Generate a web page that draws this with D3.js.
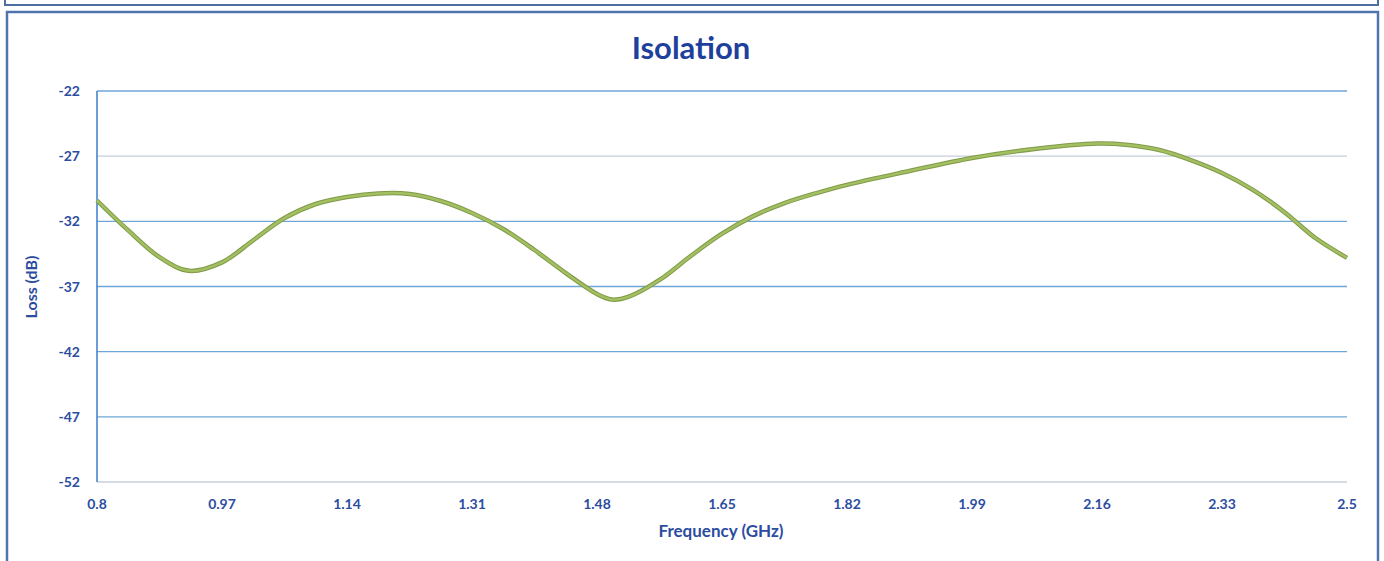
<!DOCTYPE html>
<html>
<head>
<meta charset="utf-8">
<script src="https://cdn.jsdelivr.net/npm/d3@7"></script>
<style>
  body { margin: 0; background: #fff; }
  text { font-family: Lato, "Open Sans", sans-serif; font-weight: bold; }
</style>
</head>
<body>
<div id="main"></div>
<script>
// values
var freq = [0.8, 0.8425, 0.885, 0.925, 0.97, 1.0125, 1.055, 1.0975, 1.14, 1.1825, 1.225, 1.2675, 1.31, 1.3525, 1.395, 1.4375, 1.48, 1.5, 1.5225, 1.565, 1.6075, 1.65, 1.6925, 1.735, 1.7775, 1.82, 1.905, 1.99, 2.075, 2.16, 2.2025, 2.245, 2.2875, 2.33, 2.3725, 2.415, 2.4575, 2.5];
var loss = [-30.4, -32.7, -34.75, -35.8, -35.15, -33.45, -31.75, -30.67, -30.13, -29.86, -29.9, -30.44, -31.36, -32.59, -34.2, -35.97, -37.58, -38.0, -37.8, -36.5, -34.66, -32.95, -31.6, -30.6, -29.85, -29.2, -28.14, -27.14, -26.45, -26.03, -26.14, -26.53, -27.3, -28.29, -29.6, -31.3, -33.3, -34.8];
var xTicks = [0.8, 0.97, 1.14, 1.31, 1.48, 1.65, 1.82, 1.99, 2.16, 2.33, 2.5];
var yTicks = [-52, -47, -42, -37, -32, -27, -22];

var W = 1384, H = 561,
    margin = {top: 91, right: 37, bottom: 79, left: 97},
    width = W - margin.left - margin.right,
    height = H - margin.top - margin.bottom;

var textColor = "#2c4d9f";

var svg = d3.select("#main").append("svg")
    .attr("width", W)
    .attr("height", H);

// frames
svg.append("path")
    .attr("d", "M5,0 V5 H1378 V0")
    .attr("fill", "none")
    .attr("stroke", "#4f6fa3")
    .attr("stroke-width", 2);
svg.append("path")
    .attr("d", "M7,570 V12 H1378 V570")
    .attr("fill", "none")
    .attr("stroke", "#4f74ab")
    .attr("stroke-width", 2.5);

var g = svg.append("g")
    .attr("transform", "translate(" + margin.left + "," + margin.top + ")");

var x = d3.scaleLinear().domain([0.8, 2.5]).range([0, width]);
var y = d3.scaleLinear().domain([-52, -22]).range([height, 0]);

// gridlines
g.selectAll(".grid")
    .data(yTicks)
    .enter().append("line")
    .attr("x1", 0)
    .attr("x2", width)
    .attr("y1", function(d){ return y(d); })
    .attr("y2", function(d){ return y(d); })
    .attr("stroke", function(d){ return (d == -27 || d == -52) ? "#c6cfdc" : "#6ea6d8"; })
    .attr("stroke-width", 1.3);

// y axis line
g.append("line")
    .attr("x1", 0).attr("x2", 0)
    .attr("y1", 0).attr("y2", height)
    .attr("stroke", "#3d7cc9")
    .attr("stroke-width", 1.5);

// tick labels
g.selectAll(".ylab")
    .data(yTicks)
    .enter().append("text")
    .attr("x", -17)
    .attr("y", function(d){ return y(d) + 5; })
    .attr("text-anchor", "end")
    .attr("fill", textColor)
    .style("font-size", "14px")
    .text(function(d){ return d; });

g.selectAll(".xlab")
    .data(xTicks)
    .enter().append("text")
    .attr("x", function(d){ return x(d); })
    .attr("y", height + 27)
    .attr("text-anchor", "middle")
    .attr("fill", textColor)
    .style("font-size", "14px")
    .text(function(d){ return d; });

// curve
var pts = freq.map(function(f, i){ return [f, loss[i]]; });
var line = d3.line()
    .x(function(d){ return x(d[0]); })
    .y(function(d){ return y(d[1]); })
    .curve(d3.curveCatmullRom.alpha(0.5));

g.append("path")
    .datum(pts)
    .attr("d", line)
    .attr("fill", "none")
    .attr("stroke", "#7f9a48")
    .attr("stroke-width", 4.5);
g.append("path")
    .datum(pts)
    .attr("d", line)
    .attr("fill", "none")
    .attr("stroke", "#a3bf62")
    .attr("stroke-width", 2.5);

// titles
svg.append("text")
    .attr("x", 691)
    .attr("y", 59)
    .attr("text-anchor", "middle")
    .attr("fill", "#1f3f9d")
    .style("font-size", "31px")
    .text("Isolation");

svg.append("text")
    .attr("x", 721)
    .attr("y", 537)
    .attr("text-anchor", "middle")
    .attr("fill", textColor)
    .style("font-size", "17px")
    .text("Frequency (GHz)");

svg.append("text")
    .attr("transform", "translate(37,287) rotate(-90)")
    .attr("text-anchor", "middle")
    .attr("fill", textColor)
    .style("font-size", "16px")
    .text("Loss (dB)");
</script>
</body>
</html>
